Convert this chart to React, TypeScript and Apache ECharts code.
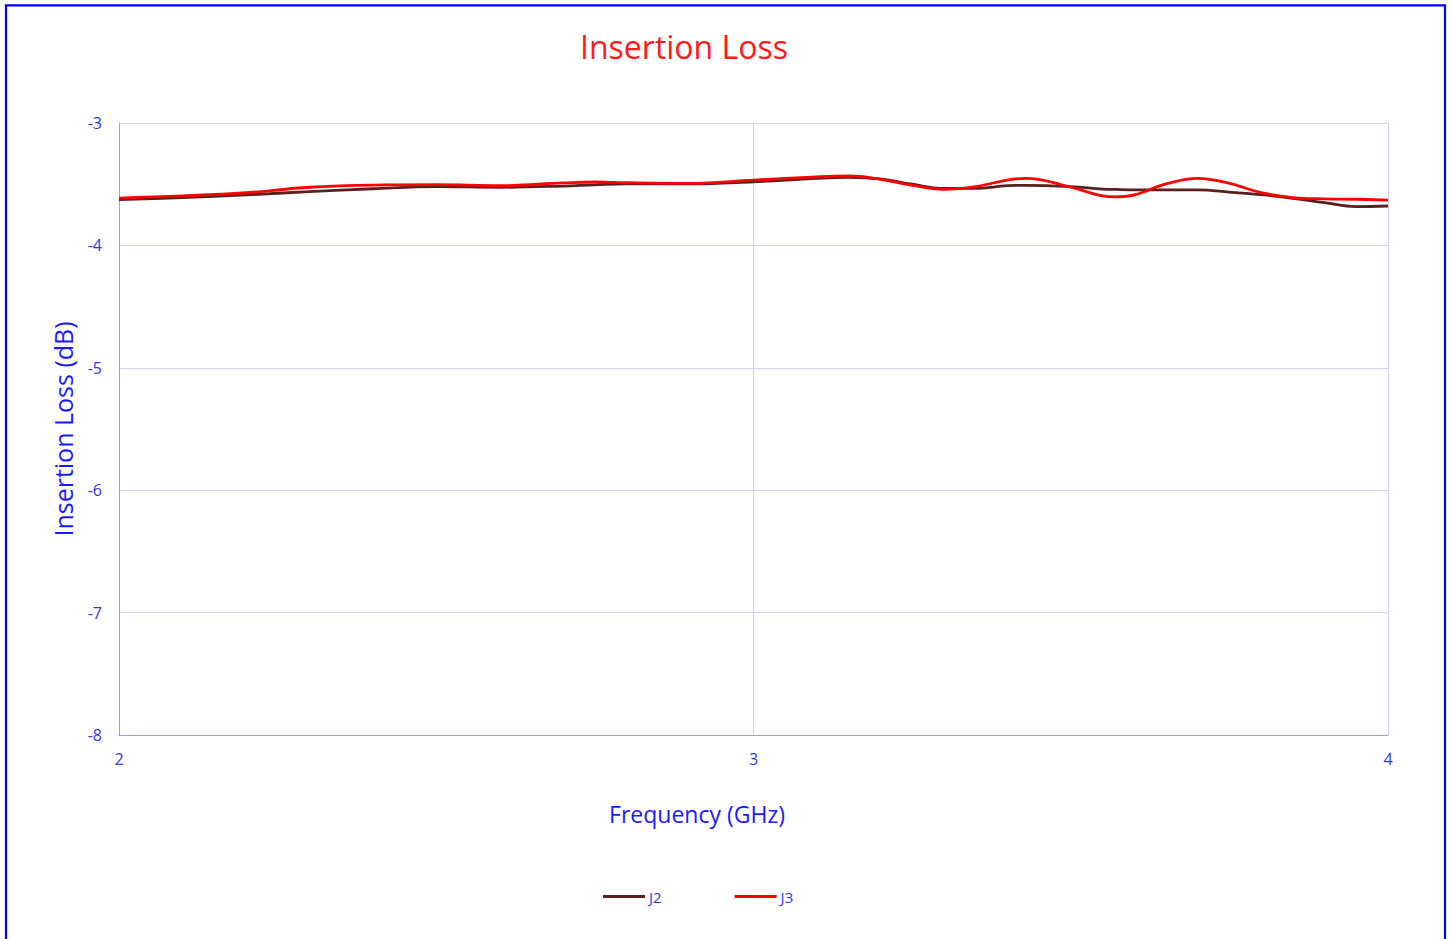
import React, { useEffect, useRef } from "react";
import * as echarts from "echarts";

const freqs = [2.0, 2.1, 2.2, 2.3, 2.4, 2.5, 2.6, 2.7, 2.75, 2.8, 2.9, 3.0, 3.1, 3.15, 3.2, 3.25, 3.3, 3.35, 3.4, 3.43, 3.5, 3.55, 3.57, 3.6, 3.65, 3.7, 3.75, 3.8, 3.85, 3.9, 3.95, 4.0];
const j2 = [-3.625, -3.61, -3.588, -3.56, -3.537, -3.52, -3.525, -3.515, -3.505, -3.498, -3.498, -3.48, -3.452, -3.444, -3.457, -3.5, -3.534, -3.534, -3.512, -3.509, -3.52, -3.54, -3.543, -3.547, -3.547, -3.547, -3.564, -3.586, -3.615, -3.651, -3.683, -3.678];
const j3 = [-3.613, -3.596, -3.57, -3.525, -3.507, -3.504, -3.512, -3.49, -3.482, -3.488, -3.493, -3.466, -3.44, -3.433, -3.46, -3.51, -3.542, -3.52, -3.466, -3.452, -3.525, -3.596, -3.604, -3.588, -3.498, -3.452, -3.493, -3.569, -3.61, -3.62, -3.623, -3.63];
const seriesNames = ["J2", "J3"];
const seriesColors = ["#5a2020", "#ff0000"];

export default function App() {
  const ref = useRef<HTMLDivElement>(null);
  useEffect(() => {
    document.body.style.margin = "0";
    const chart = echarts.init(ref.current!, undefined, { renderer: "svg" });
    const font = "'Open Sans', 'Noto Sans', sans-serif";
    const tickColor = "#3535e8";
    const nameColor = "#1a1aff";
    chart.setOption({
      animation: false,
      backgroundColor: "#ffffff",
      graphic: [
        {
          type: "rect",
          shape: { x: 6, y: 5.3, width: 1439, height: 1000 },
          style: { fill: "none", stroke: "#0000ff", lineWidth: 2.2 },
          silent: true,
        },
        {
          type: "text",
          x: 684,
          y: 46,
          style: {
            text: "Insertion Loss",
            fill: "#ff1a1a",
            fontSize: 32,
            fontFamily: font,
            align: "center",
            verticalAlign: "middle",
          },
        },
        {
          type: "text",
          x: 697,
          y: 814,
          style: {
            text: "Frequency (GHz)",
            fill: nameColor,
            fontSize: 23,
            fontFamily: font,
            align: "center",
            verticalAlign: "middle",
          },
        },
      ],
      legend: {
        bottom: 35,
        left: 603,
        padding: 0,
        itemWidth: 42,
        itemHeight: 3,
        itemGap: 73,
        icon: "rect",
        textStyle: { color: tickColor, fontSize: 15, fontFamily: font, padding: [0, 0, 0, -1] },
        data: seriesNames,
      },
      grid: { left: 119, top: 123, right: 64, bottom: 204, containLabel: false },
      xAxis: {
        type: "value",
        min: 2,
        max: 4,
        interval: 1,
        axisLine: { show: true, lineStyle: { color: "#9a9af5", width: 1 } },
        axisTick: { show: false },
        axisLabel: { color: tickColor, fontSize: 16, fontFamily: font, margin: 16 },
        splitLine: { show: true, lineStyle: { color: "#d0d0f5", width: 1 } },
      },
      yAxis: {
        type: "value",
        min: -8,
        max: -3,
        interval: 1,
        name: "Insertion Loss (dB)",
        nameLocation: "middle",
        nameGap: 44,
        nameTextStyle: { color: nameColor, fontSize: 25, fontFamily: font },
        axisLine: { show: true, onZero: false, lineStyle: { color: "#9a9af5", width: 1 } },
        axisTick: { show: false },
        axisLabel: { color: tickColor, fontSize: 16, fontFamily: font, margin: 17 },
        splitLine: { show: true, lineStyle: { color: "#d0d0f5", width: 1 } },
      },
      series: [
        {
          name: seriesNames[0],
          type: "line",
          smooth: 0.4,
          showSymbol: false,
          data: freqs.map((f, i) => [f, j2[i]]),
          lineStyle: { color: seriesColors[0], width: 2.8 },
          itemStyle: { color: seriesColors[0] },
        },
        {
          name: seriesNames[1],
          type: "line",
          smooth: 0.4,
          showSymbol: false,
          data: freqs.map((f, i) => [f, j3[i]]),
          lineStyle: { color: seriesColors[1], width: 2.8 },
          itemStyle: { color: seriesColors[1] },
        },
      ],
    });
    return () => chart.dispose();
  }, []);
  return <div ref={ref} style={{ width: 1452, height: 939 }} />;
}
